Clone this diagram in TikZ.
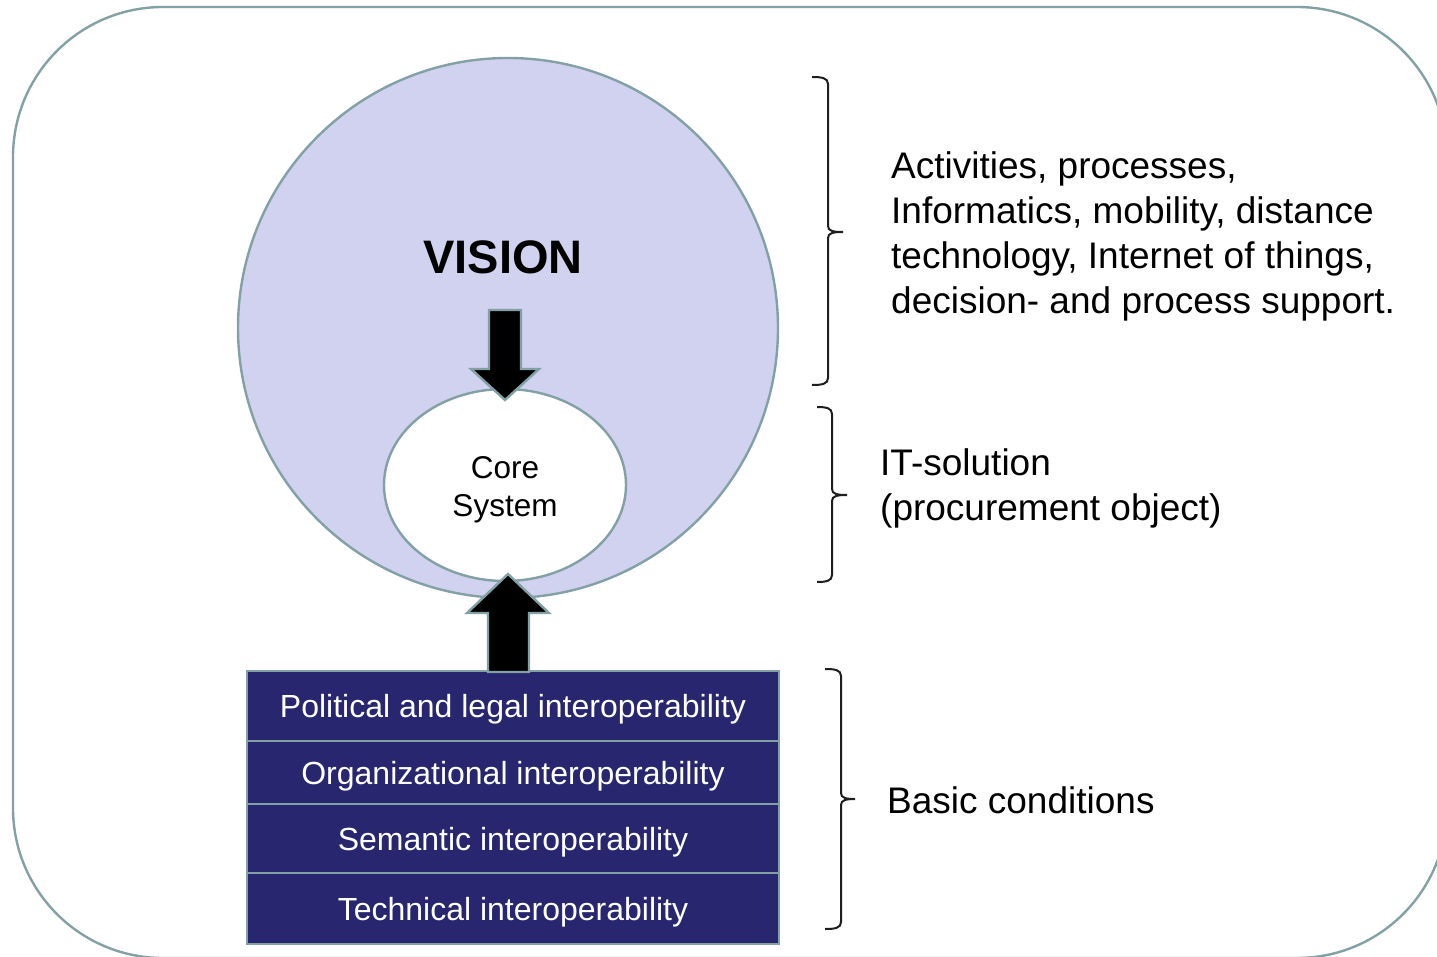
\documentclass[tikz,border=0pt]{standalone}
\usepackage{fontspec}
\setmainfont{Liberation Sans}
\usetikzlibrary{shapes.geometric,positioning}

\definecolor{frameline}{HTML}{83A1A4}
\definecolor{visionfill}{HTML}{D1D1F0}
\definecolor{layerfill}{HTML}{27266F}
\definecolor{bracecol}{HTML}{1E1E1E}

\tikzset{
  outline/.style={draw=frameline, line width=2.4pt},
  layer/.style={draw=frameline, line width=2.2pt, fill=layerfill, text=white,
    minimum width=532pt, inner sep=0pt, outer sep=0pt, text depth=0pt,
    font=\fontsize{32}{38}\selectfont},
  blockarrow/.style={draw=frameline, line width=2.4pt, fill=black, line join=miter},
  bracestyle/.style={draw=bracecol, line width=2pt},
  sidetext/.style={anchor=west, align=left, inner sep=0pt, font=\fontsize{37}{45}\selectfont}
}

% right-hand curly brace: left x, spine x, tip x, top y, middle y, bottom y
\newcommand{\curlybrace}[6]{%
  \draw[bracestyle] (#1,#4) .. controls (#2-6,#4) and (#2,#4+1) .. (#2,#4+7)
    -- (#2,#5-6) .. controls (#2,#5-1) and (#2+5,#5) .. (#3,#5)
    .. controls (#2+5,#5) and (#2,#5+1) .. (#2,#5+6)
    -- (#2,#6-7) .. controls (#2,#6-1) and (#2-6,#6) .. (#1,#6);}

\begin{document}
\begin{tikzpicture}[x=1pt,y=-1pt]
\useasboundingbox (0,0) rectangle (1437,957);
\begin{scope}
\clip (0,0) rectangle (1437,957);
% surrounding frame
\draw[outline, rounded corners=150pt] (13,7) rectangle (1447,958);

% vision circle and core system
\node[outline, circle, fill=visionfill, minimum size=540pt, inner sep=0pt] (vision) at (508,328) {};
\node[font=\fontsize{47}{56}\selectfont\bfseries] (visiontext) at (503,257) {VISION};
\node[outline, ellipse, fill=white, minimum width=242pt, minimum height=192pt, inner sep=0pt] (core) at (505,485) {};
\node[align=center, inner sep=0pt, font=\fontsize{31.5}{38}\selectfont] (coretext) at (505,490) {Core\\System};

% arrow from the vision down into the core system
\draw[blockarrow] (489,310) -- (521,310) -- (521,369) -- (539,369) -- (505,400)
  -- (471,369) -- (489,369) -- cycle;

% interoperability layers
\node[layer, minimum height=70pt] (political) at (513,706) {Political and legal interoperability};
\node[layer, minimum height=63pt, below=0pt of political] (organizational) {Organizational interoperability};
\node[layer, minimum height=69pt, below=0pt of organizational] (semantic) {Semantic interoperability};
\node[layer, minimum height=71pt, below=0pt of semantic] (technical) {Technical interoperability};

% arrow from the layers up into the core system
\draw[blockarrow] (488,672) -- (488,613) -- (467,613) -- (508,574) -- (549,613)
  -- (529,613) -- (529,672) -- cycle;

% braces
\curlybrace{812}{828}{843}{77}{232}{385}
\curlybrace{817}{832}{847}{407}{495}{582}
\curlybrace{825}{841}{855}{669}{799}{929}

% descriptions
\node[sidetext] (activities) at (891,236) {Activities, processes,\\Informatics, mobility, distance\\technology, Internet of things,\\decision- and process support.};
\node[sidetext] (itsolution) at (880,488) {IT-solution\\(procurement object)};
\node[sidetext] (basic) at (887,800) {Basic conditions};
\end{scope}
\end{tikzpicture}
\end{document}
